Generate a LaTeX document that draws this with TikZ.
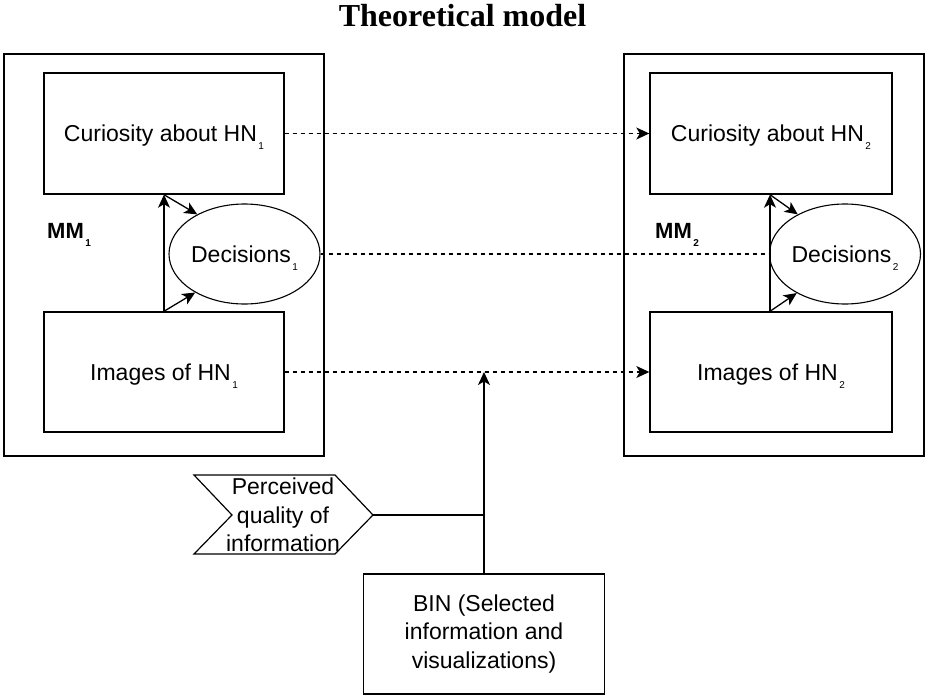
\documentclass[tikz,border=0pt]{standalone}
\usepackage{fontspec}
\setmainfont{Liberation Sans}
\newfontfamily\titlefont{Liberation Serif}
\usetikzlibrary{arrows.meta,shapes.geometric}
\newcommand\lsub[1]{\hspace{1.5pt}\raisebox{-8pt}{\fontsize{10}{10}\selectfont #1}}
\begin{document}
\begin{tikzpicture}[x=1pt,y=-1pt,
  font=\fontsize{23}{28.5}\selectfont,
  outerbox/.style={draw,line width=1.5pt,inner sep=0pt},
  inbox/.style={draw,line width=1.4pt,inner sep=0pt,align=center,text height=16pt,text depth=0pt},
  decell/.style={ellipse,draw,line width=1.1pt,inner sep=0pt,minimum width=121pt,minimum height=100pt,text height=16pt,text depth=0pt},
  flow/.style={line width=1.3pt},
  link/.style={line width=1.2pt,dash pattern=on 4.5pt off 3.5pt},
  arr/.style={-{Stealth[length=13pt,width=12pt,inset=3.5pt]}},
  mmlabel/.style={anchor=base west,font=\fontsize{22}{22}\selectfont\bfseries,inner sep=0pt}
]
\useasboundingbox (0,0) rectangle (926,696);

% title
\node[anchor=base,inner sep=0pt] (title) at (462.5,27) {\titlefont\bfseries\fontsize{32}{32}\selectfont Theoretical model};

% left mental model
\node[outerbox,minimum width=320pt,minimum height=402pt] (outer1) at (164,255) {};
\node[inbox,minimum width=240pt,minimum height=121pt] (cur1) at (164,133.5) {Curiosity about HN\lsub{1}};
\node[inbox,minimum width=240pt,minimum height=120pt] (img1) at (164,372) {Images of HN\lsub{1}};
\node[decell] (dec1) at (244.5,254) {Decisions\lsub{1}};
\node[mmlabel] (mm1) at (47,238) {MM\lsub{1}};

% right mental model
\node[outerbox,minimum width=300pt,minimum height=402pt] (outer2) at (774,255) {};
\node[inbox,minimum width=242pt,minimum height=121pt] (cur2) at (771,133.5) {Curiosity about HN\lsub{2}};
\node[inbox,minimum width=242pt,minimum height=120pt] (img2) at (771,372) {Images of HN\lsub{2}};
\node[decell,minimum width=122pt] (dec2) at (845,254) {Decisions\lsub{2}};
\node[mmlabel] (mm2) at (655,238) {MM\lsub{2}};

% BIN box
\node[draw,line width=1.4pt,inner sep=0pt,align=center,minimum width=241pt,minimum height=120pt] (bin) at (484,634) {BIN (Selected\\information and\\visualizations)};

% perceived quality chevron
\draw[line width=1.2pt] (194,475) -- (335,475) -- (373,515) -- (335,554) -- (194,554) -- (232,515) -- cycle;
\coordinate (pqtip) at (373,515);
\node[align=center,inner sep=0pt] (pq) at (283,515) {Perceived\\quality of\\information};

% inner arrows left
\draw[flow,arr] (img1.north) -- (cur1.south);
\draw[flow,arr] (cur1.south) -- (dec1.140);
\draw[flow,arr] (img1.north) -- (dec1.218);

% inner arrows right
\draw[flow,arr] ([xshift=-1pt]img2.north) -- ([xshift=-1pt]cur2.south);
\draw[flow,arr] ([xshift=-1pt]cur2.south) -- (dec2.140);
\draw[flow,arr] ([xshift=-1pt]img2.north) -- (dec2.219);

% dashed links
\draw[link,arr] (cur1.east) -- (cur2.west);
\draw[link] (dec1.east) -- (dec2.west);
\draw[link,arr] (img1.east) -- (img2.west);

% BIN and quality influence
\draw[flow,arr] (bin.north) -- (bin.north |- img1.east);
\draw[flow] (pqtip) -- (pqtip -| bin.north);
\end{tikzpicture}
\end{document}
